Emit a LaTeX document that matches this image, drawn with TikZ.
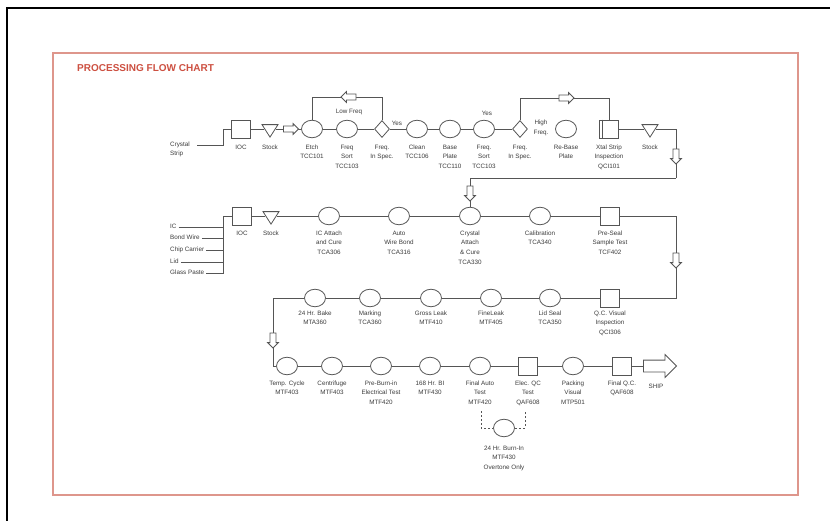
\documentclass[tikz,border=0pt]{standalone}
\usepackage{fontspec}
\setmainfont{Liberation Sans}
\usetikzlibrary{shapes.geometric,shapes.arrows}
\definecolor{ln}{RGB}{85,85,85}
\definecolor{tx}{RGB}{60,60,60}
\definecolor{framec}{RGB}{222,150,140}
\definecolor{ttl}{RGB}{205,80,65}
\begin{document}
\begin{tikzpicture}[x=1pt,y=-1pt,
 every node/.style={inner sep=0pt},
 op/.style={ellipse,draw=ln,line width=0.8pt,minimum width=21pt,minimum height=17.5pt},
 bx/.style={rectangle,draw=ln,line width=0.8pt,minimum width=19.5pt,minimum height=18pt},
 dm/.style={diamond,draw=ln,line width=0.8pt,minimum width=15pt,minimum height=17pt},
 tri/.style={isosceles triangle,isosceles triangle stretches,shape border rotate=-90,draw=ln,line width=0.8pt,minimum width=16pt,minimum height=12.5pt},
 lbl/.style={anchor=north,align=center,font=\fontsize{6.3}{9.7}\selectfont,text=tx},
 txt/.style={align=center,font=\fontsize{6.3}{9.7}\selectfont,text=tx},
 inp/.style={anchor=west,font=\fontsize{6.3}{9.7}\selectfont,text=tx,text height=4.5pt,text depth=1.2pt,inner xsep=2pt},
 conn/.style={draw=ln,line width=0.8pt},
 harr/.style={single arrow,draw=ln,fill=white,line width=0.8pt,minimum height=15pt,inner xsep=0pt,inner ysep=2.6pt,single arrow head extend=2.4pt},
 varr/.style={single arrow,shape border rotate=270,draw=ln,fill=white,line width=0.8pt,minimum height=15pt,inner ysep=0pt,inner xsep=2.6pt,single arrow head extend=2.4pt},
 bigarr/.style={single arrow,draw=ln,fill=white,line width=0.8pt,minimum height=33pt,inner xsep=0pt,inner ysep=5.5pt,single arrow head extend=5.5pt}
]
\useasboundingbox (0,0) rectangle (830,520);
\fill[white] (0,0) rectangle (830,520);
\draw[black,line width=1.5pt] (7,521) -- (7,8) -- (831,8);
\draw[framec,line width=1.6pt] (53,53) rectangle (798,495);
\node[anchor=west,font=\bfseries\fontsize{10}{12}\selectfont,text=ttl] (title) at (77,68) {PROCESSING FLOW CHART};

% ---------------- Row 1
\node[txt,anchor=north west,align=left] (cs) at (170,141.5) {Crystal\\Strip};
\coordinate (csend) at (197,145.7);
\coordinate (bus1) at (223,129);
\node[bx] (ioc1) at (241,129) {};
\node[tri] (stk1) at (270,129) {};
\node[op] (etch) at (312,129) {};
\node[op] (fsort1) at (347,129) {};
\node[dm] (dia1) at (382,129) {};
\node[op] (clean) at (417,129) {};
\node[op] (base) at (450,129) {};
\node[op] (fsort2) at (484,129) {};
\node[dm] (dia2) at (520,129) {};
\node[op] (rebase) at (566,129) {};
\node[bx] (xtal) at (609,129) {};
\node[tri] (stk2) at (650,129) {};
\coordinate (loopL) at (0,97);
\coordinate (loopR) at (0,98);
\coordinate (r1e) at (676,129);
\coordinate (r1b) at (676,178);

\draw[conn] (csend) -- (csend -| bus1) -- (bus1) -- (ioc1);
\draw[conn] (ioc1) -- (stk1) -- (etch) -- (fsort1) -- (dia1) -- (clean) -- (base) -- (fsort2) -- (dia2);
\draw[conn] (etch.north) -- (etch.north |- loopL) -- (dia1.north |- loopL) -- (dia1.north);
\draw[conn] (dia2.north) -- (dia2.north |- loopR) -- (xtal.north |- loopR) -- (xtal.north);
\draw[conn] ([xshift=4pt]xtal.north west) -- ([xshift=4pt]xtal.south west);
\draw[conn] (xtal) -- (stk2) -- (r1e) -- (r1b);

\node[harr] (a1) at (289.5,129) {};
\node[harr,shape border rotate=180] (aLow) at (350,97) {};
\node[harr] (aHigh) at (565,98) {};
\node[varr] (aD1) at (676,155) {};

\node[txt] (lowf) at (349,112) {Low Freq};
\node[txt] (yes1) at (397,123) {Yes};
\node[txt] (yes2) at (487,113) {Yes};
\node[txt] (highf) at (541,128) {High\\Freq.};

\node[lbl] at (241,144.5) {IOC};
\node[lbl] at (270,144.5) {Stock};
\node[lbl] at (312,144.5) {Etch\\TCC101};
\node[lbl] at (347,144.5) {Freq\\Sort\\TCC103};
\node[lbl] at (382,144.5) {Freq.\\In Spec.};
\node[lbl] at (417,144.5) {Clean\\TCC106};
\node[lbl] at (450,144.5) {Base\\Plate\\TCC110};
\node[lbl] at (484,144.5) {Freq.\\Sort\\TCC103};
\node[lbl] at (520,144.5) {Freq.\\In Spec.};
\node[lbl] at (566,144.5) {Re-Base\\Plate};
\node[lbl] at (609,144.5) {Xtal Strip\\Inspection\\QCI101};
\node[lbl] at (650,144.5) {Stock};

% ---------------- Row 2
\node[inp] (in1) at (168,227) {IC};
\node[inp] (in2) at (168,238) {Bond Wire};
\node[inp] (in3) at (168,250) {Chip Carrier};
\node[inp] (in4) at (168,262) {Lid};
\node[inp] (in5) at (168,273) {Glass Paste};
\coordinate (bus2) at (223,216);
\node[bx] (ioc2) at (242,216) {};
\node[tri] (stk3) at (271,216) {};
\node[op] (icatt) at (329,216) {};
\node[op] (wire) at (399,216) {};
\node[op] (cryst) at (470,216) {};
\node[op] (calib) at (540,216) {};
\node[bx] (preseal) at (610,216) {};
\coordinate (r2e) at (676,216);

\draw[conn] (in1.east) -- (in1.east -| bus2);
\draw[conn] (in2.east) -- (in2.east -| bus2);
\draw[conn] (in3.east) -- (in3.east -| bus2);
\draw[conn] (in4.east) -- (in4.east -| bus2);
\draw[conn] (in5.east) -- (in5.east -| bus2) -- (bus2) -- (ioc2);
\draw[conn] (ioc2) -- (stk3) -- (icatt) -- (wire) -- (cryst) -- (calib) -- (preseal) -- (r2e);
\draw[conn] (r1b) -- (cryst.north |- r1b) -- (cryst.north);

\node[varr] (aD2) at (470,192) {};

\node[lbl] at (242,230.5) {IOC};
\node[lbl] at (271,230.5) {Stock};
\node[lbl] at (329,230.5) {IC Attach\\and Cure\\TCA306};
\node[lbl] at (399,230.5) {Auto\\Wire Bond\\TCA316};
\node[lbl] at (470,230.5) {Crystal\\Attach\\\& Cure\\TCA330};
\node[lbl] at (540,230.5) {Calibration\\TCA340};
\node[lbl] at (610,230.5) {Pre-Seal\\Sample Test\\TCF402};

% ---------------- Row 3
\node[op] (bake) at (315,298) {};
\node[op] (mark) at (370,298) {};
\node[op] (gross) at (431,298) {};
\node[op] (fine) at (491,298) {};
\node[op] (lidseal) at (550,298) {};
\node[bx] (qcv) at (610,298) {};
\coordinate (r3e) at (676,298);
\coordinate (r3w) at (273,298);
\coordinate (r4w) at (273,366);

\draw[conn] (r2e) -- (r3e) -- (qcv) -- (lidseal) -- (fine) -- (gross) -- (mark) -- (bake) -- (r3w) -- (r4w);

\node[varr] (aD3) at (676,259) {};
\node[varr] (aD4) at (273,339) {};

\node[lbl] at (315,310.5) {24 Hr. Bake\\MTA360};
\node[lbl] at (370,310.5) {Marking\\TCA360};
\node[lbl] at (431,310.5) {Gross Leak\\MTF410};
\node[lbl] at (491,310.5) {FineLeak\\MTF405};
\node[lbl] at (550,310.5) {Lid Seal\\TCA350};
\node[lbl] at (610,310.5) {Q.C. Visual\\Inspection\\QCI306};

% ---------------- Row 4
\node[op] (temp) at (287,366) {};
\node[op] (centri) at (332,366) {};
\node[op] (preburn) at (381,366) {};
\node[op] (bi) at (430,366) {};
\node[op] (fauto) at (480,366) {};
\node[bx] (elecqc) at (528,366) {};
\node[op] (pack) at (573,366) {};
\node[bx] (finalqc) at (622,366) {};
\node[bigarr] (ship) at (657,366) {};
\node[op] (burn) at (504,428) {};
\coordinate (d1) at (481,411);
\coordinate (d2) at (525,411);

\draw[conn] (r4w) -- (temp) -- (centri) -- (preburn) -- (bi) -- (fauto) -- (elecqc) -- (pack) -- (finalqc) -- (ship);
\draw[conn,dash pattern=on 2pt off 2pt] (d1) -- (d1 |- burn) -- (burn);
\draw[conn,dash pattern=on 2pt off 2pt] (burn) -- (d2 |- burn) -- (d2);

\node[lbl] at (287,380.5) {Temp. Cycle\\MTF403};
\node[lbl] at (332,380.5) {Centrifuge\\MTF403};
\node[lbl] at (381,380.5) {Pre-Burn-in\\Electrical Test\\MTF420};
\node[lbl] at (430,380.5) {168 Hr. BI\\MTF430};
\node[lbl] at (480,380.5) {Final Auto\\Test\\MTF420};
\node[lbl] at (528,380.5) {Elec. QC\\Test\\QAF608};
\node[lbl] at (573,380.5) {Packing\\Visual\\MTP501};
\node[lbl] at (622,380.5) {Final Q.C.\\QAF608};
\node[txt] (shipl) at (656,386) {SHIP};
\node[lbl] at (504,445.5) {24 Hr. Burn-In\\MTF430\\Overtone Only};
\end{tikzpicture}
\end{document}
